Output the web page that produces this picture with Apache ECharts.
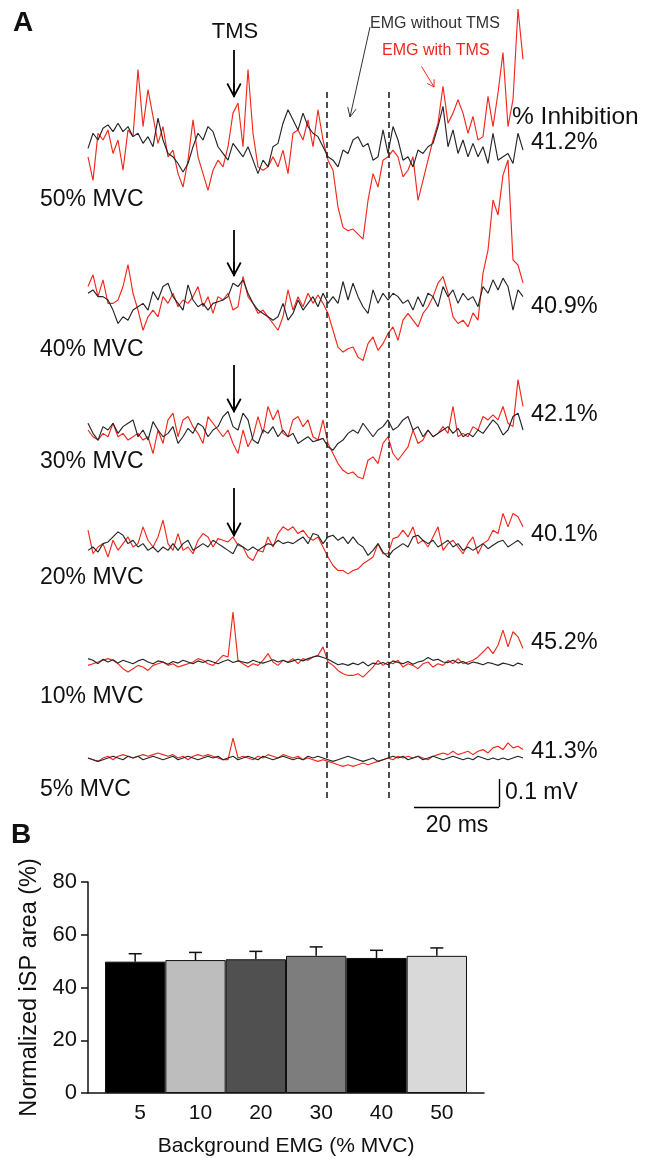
<!DOCTYPE html>
<html>
<head>
<meta charset="utf-8">
<script src="https://cdn.jsdelivr.net/npm/echarts@6/dist/echarts.min.js"></script>
<style>
html, body { margin: 0; padding: 0; background: #fff; }
#main { width: 654px; height: 1158px; }
</style>
</head>
<body>
<div id="main"></div>
<script>
// Panel A: rectified EMG, µV relative to each row's baseline, one sample every ~1.18 ms
var rowNames = ['50% MVC', '40% MVC', '30% MVC', '20% MVC', '10% MVC', '5% MVC'];
var inhibition = ['41.2%', '40.9%', '42.1%', '40.1%', '45.2%', '41.3%'];

var noTms50 = [-30,24,0,42,54,30,60,30,48,12,24,-12,12,-24,78,0,-48,-60,-84,-114,-84,-24,24,0,48,30,-24,-48,-72,-12,
  -36,-60,-24,-72,-120,-72,-96,-24,-12,60,108,72,36,96,48,24,12,-24,-60,-72,-96,-36,-48,0,12,-24,-12,-72,-60,36,
  -48,48,0,-72,-60,-96,-36,-48,-24,-12,48,120,-24,36,-48,0,-60,-12,-60,-24,-84,24,-72,-60,-48,-84,24,-36];
var tms50 = [-60,-144,24,0,36,-48,0,-108,36,12,252,48,180,84,-12,48,-60,-36,-120,-168,-72,72,-60,-120,-180,-108,-72,-96,-24,96,
  132,-24,252,24,-96,-108,-96,-60,-96,-36,-120,24,36,0,72,-24,108,0,-72,-108,-240,-312,-324,-318,-336,-354,-216,-120,-168,-72,
  -60,-36,-60,-132,-108,-60,-216,-144,-72,0,60,192,60,96,144,96,24,84,0,12,156,48,168,312,48,144,468,288];

var noTms40 = [24,36,12,12,0,-36,-84,-60,-72,-36,-24,-12,-36,30,0,48,60,12,-12,-36,54,0,-24,-12,-36,-12,-6,0,12,60,
  48,72,24,-12,-36,-48,-60,-72,-60,-12,-72,-48,0,-36,-12,12,-24,24,-12,12,-12,66,0,60,12,-24,-48,36,-12,24,
  0,24,12,-12,0,-36,12,-24,24,12,-24,48,12,36,-12,24,0,12,-24,48,24,72,36,78,48,-36,36,12];
var tms40 = [48,90,12,72,-12,-12,0,48,126,24,-36,-108,-60,-36,-60,12,-12,24,-24,0,-12,12,48,-24,12,-48,12,0,24,-36,
  -24,84,12,-12,-48,-36,-60,-84,-108,-60,36,-36,12,-24,24,-12,18,-12,-48,-108,-168,-186,-174,-168,-204,-216,-156,-132,-180,-156,
  -120,-96,-144,-72,-48,-72,-96,-48,-24,12,60,84,24,-60,-84,-72,-96,-46,-72,96,178,357,303,446,500,143,125,61];

var noTms30 = [24,-12,-36,12,0,24,-12,12,24,36,-24,0,-36,30,0,-24,-12,12,-48,-24,6,-12,24,12,-24,0,12,48,66,12,
  0,60,36,-36,-48,0,-12,12,-24,0,-24,-12,-48,-36,-24,-42,-36,-30,-60,-72,-48,-36,-12,0,-12,24,0,-24,0,12,
  36,0,12,36,48,0,12,-24,0,-24,-12,0,12,-12,6,-24,-12,-24,0,-12,12,36,18,-18,0,48,60,0];
var tms30 = [0,-24,-36,-12,-24,24,-24,-12,-36,-24,-12,-36,-24,-84,0,-48,36,60,-24,36,48,12,-12,-48,48,24,0,-24,0,-48,
  -84,0,-60,-24,48,-12,84,36,72,-12,-24,36,48,12,36,-24,-36,36,-48,-84,-120,-144,-156,-150,-168,-174,-108,-96,-120,-48,
  -24,-84,-108,-84,-60,0,-48,-36,0,-24,-12,12,-12,84,-24,-12,-24,12,0,48,36,54,36,84,24,12,180,84];

var noTms20 = [-12,0,-18,12,18,36,54,42,12,24,0,12,-12,0,-18,0,-12,12,-12,12,24,-12,0,12,0,24,12,0,-12,-24,
  12,0,-12,0,-12,0,12,6,24,12,18,12,24,36,12,48,42,12,36,42,24,36,12,36,12,0,-30,-12,12,-18,
  -36,-12,0,12,0,36,42,24,12,24,0,12,24,0,12,-12,0,-12,0,12,-6,6,18,24,0,12,24,6];
var tms20 = [60,-24,0,12,-36,24,-12,12,36,0,12,72,24,0,36,96,12,-12,48,-12,0,-24,24,48,36,0,30,24,18,36,
  6,0,-36,-48,-12,-18,36,0,48,72,60,72,48,60,36,24,36,0,-36,-66,-84,-84,-96,-84,-78,-60,-48,-36,12,-24,
  -24,30,36,60,36,72,12,24,0,36,72,-12,12,24,0,-24,12,36,-24,12,24,60,48,120,72,120,108,72];

var noTms10 = [12,6,-6,10,0,8,-4,6,0,-6,4,10,0,-6,4,0,-8,2,-4,6,0,-6,4,-2,6,0,-6,2,8,-2,
  4,0,-4,6,0,-4,2,8,0,6,-2,4,10,4,12,18,22,16,10,0,-10,-6,-12,-4,-10,0,-14,-4,-8,-2,
  -10,4,-2,-6,2,-8,0,4,16,6,10,0,-2,6,-4,2,-8,0,-4,-10,-2,-6,-12,-4,-8,-14,-4,-10];
var tms10 = [-12,-6,0,6,12,6,-6,-24,-36,-24,-12,-18,-30,-12,-6,0,-12,-6,-18,-12,-6,0,12,6,-6,-12,6,24,18,178,
  6,-6,-18,-6,-12,6,30,0,-12,6,0,12,-6,12,6,18,24,54,0,-12,-30,-42,-48,-48,-42,-54,-36,-18,6,-12,
  0,-6,6,-18,-6,-12,-24,-6,0,-18,-6,-12,6,-6,12,-6,0,6,18,36,54,30,60,114,54,108,90,48];

var noTms5 = [0,-6,-12,-6,0,6,0,-6,6,0,6,-6,0,6,0,-6,0,6,-6,0,6,0,-6,0,6,0,6,-6,0,6,
  -6,0,6,0,-6,6,0,-6,0,6,0,-6,0,-6,6,0,6,0,-6,-12,-6,0,6,0,-6,-12,-6,0,-12,-6,
  0,6,0,6,-6,0,6,-6,0,6,0,-6,0,6,0,-6,0,-6,6,0,-6,0,-6,0,-6,0,6,0];
var tms5 = [0,-6,-12,0,6,-6,6,12,6,0,6,12,6,12,18,12,6,12,0,6,-6,6,12,6,12,6,0,-6,-6,71,
  0,6,0,-6,6,0,12,6,0,12,6,0,6,-6,0,-6,-12,-6,-12,-18,-24,-30,-24,-30,-24,-18,-24,-18,-12,-6,
  0,-6,6,0,6,0,6,0,-6,6,12,18,12,24,12,18,24,12,24,30,18,36,42,30,54,36,42,30];

var noTmsRows = [noTms50, noTms40, noTms30, noTms20, noTms10, noTms5];
var tmsRows = [tms50, tms40, tms30, tms20, tms10, tms5];

// sample index of the TMS pulse and of the silent-period window
var tmsIndex = 29.2;
var spWindow = [47.8, 60.2];

// Panel B
var mvcLevels = ['5', '10', '20', '30', '40', '50'];
var ispArea = [49.8, 50.4, 50.7, 52.0, 51.2, 52.0];
var ispSem = [3.0, 2.9, 3.0, 3.4, 2.9, 3.0];
var barColors = ['#000000', '#bdbdbd', '#505050', '#7d7d7d', '#000000', '#d9d9d9'];

// layout
var FONT = '"Liberation Sans", Arial, sans-serif';
var RED = '#f2281d';
var BLK = '#262626';
var rowBase = [140, 300, 430, 547, 662, 758];
var rowLabelY = [200, 350, 462, 578, 697, 790];
var pctLabelY = [143, 307, 415, 535, 643, 752];
// arrow top / shaft end in µV, rows 50..20
var tmsArrow = [[321, 177], [250, 109], [232, 87], [211, 62]];

var arrowHead = 'path://M7,0 L14,14 L12.6,15 L7,3.8 L1.4,15 L0,14 Z M6.1,1 L7.9,1 L7.9,15 L6.1,15 Z';

var grids = [], xAxes = [], yAxes = [], series = [];

rowNames.forEach(function (name, r) {
  grids.push({ left: 88, width: 435, top: rowBase[r] - 140, height: 280 });
  xAxes.push({ gridIndex: r, type: 'value', min: 0, max: 87, show: false });
  yAxes.push({ gridIndex: r, type: 'value', min: -500, max: 500, show: false });

  series.push({
    type: 'line', xAxisIndex: r, yAxisIndex: r,
    data: tmsRows[r].map(function (v, i) { return [i, v]; }),
    showSymbol: false, clip: false, silent: true,
    lineStyle: { color: RED, width: 1.15 }
  });

  var black = {
    type: 'line', xAxisIndex: r, yAxisIndex: r,
    data: noTmsRows[r].map(function (v, i) { return [i, v]; }),
    showSymbol: false, clip: false, silent: true,
    lineStyle: { color: BLK, width: 1.15 }
  };
  if (r < 4) {
    black.markLine = {
      silent: true, animation: false,
      symbol: ['none', arrowHead], symbolSize: [15, 15],
      label: { show: false },
      lineStyle: { color: '#000', width: 1.8, type: 'solid' },
      itemStyle: { color: '#000' },
      data: [[{ coord: [tmsIndex, tmsArrow[r][0]] }, { coord: [tmsIndex, tmsArrow[r][1]] }]]
    };
  }
  if (r === 5) {
    // scale bar: 20 ms (17 samples) x 0.1 mV
    black.markLine = {
      silent: true, animation: false, symbol: 'none',
      label: { show: false },
      lineStyle: { color: '#000', width: 1.4, type: 'solid' },
      data: [
        [{ coord: [65.2, -175] }, { coord: [82.2, -175] }],
        [{ coord: [82.2, -175] }, { coord: [82.2, -75] }]
      ]
    };
  }
  series.push(black);
});

// overlay grid for the dashed silent-period window
grids.push({ left: 88, width: 435, top: 88, height: 710 });
xAxes.push({ gridIndex: 6, type: 'value', min: 0, max: 87, show: false });
yAxes.push({ gridIndex: 6, type: 'value', min: 0, max: 1, show: false });
series.push({
  type: 'line', xAxisIndex: 6, yAxisIndex: 6, data: [], silent: true,
  markLine: {
    silent: true, animation: false, symbol: 'none',
    label: { show: false },
    lineStyle: { color: '#222', width: 1.6, type: [6, 4] },
    data: spWindow.map(function (x) { return { xAxis: x }; })
  }
});

// panel B frame (axis lines extend past the bars)
grids.push({ left: 88, right: 170, top: 882, height: 211 });
xAxes.push({
  gridIndex: 7, type: 'value', min: 0, max: 1,
  axisLine: { show: true, lineStyle: { color: '#111', width: 1.5 } },
  axisTick: { show: false }, axisLabel: { show: false }, splitLine: { show: false }
});
yAxes.push({
  gridIndex: 7, type: 'value', min: 0, max: 80, interval: 20,
  name: 'Normalized iSP area (%)', nameLocation: 'middle', nameGap: 36,
  nameTextStyle: { fontFamily: FONT, fontSize: 23.5, color: '#111' },
  axisLine: { show: true, lineStyle: { color: '#111', width: 1.5 } },
  axisTick: { show: true, length: 7, lineStyle: { color: '#111', width: 1.5 } },
  axisLabel: { fontFamily: FONT, fontSize: 22, color: '#111', margin: 11 },
  splitLine: { show: false }
});

// panel B bars
grids.push({ left: 105, right: 187, top: 882, height: 211 });
xAxes.push({
  gridIndex: 8, type: 'category', data: mvcLevels,
  axisLine: { show: false }, axisTick: { show: false },
  axisLabel: { fontFamily: FONT, fontSize: 21, color: '#111', margin: 10, padding: [0, 0, 0, 10] },
  name: 'Background EMG (% MVC)', nameLocation: 'middle', nameGap: 43,
  nameTextStyle: { fontFamily: FONT, fontSize: 21, color: '#111' }
});
yAxes.push({ gridIndex: 8, type: 'value', min: 0, max: 80, show: false });

series.push({
  type: 'bar', xAxisIndex: 8, yAxisIndex: 8, barCategoryGap: '0%', silent: true,
  data: ispArea.map(function (v, i) {
    return { value: v, itemStyle: { color: barColors[i], borderColor: '#111', borderWidth: 1 } };
  })
});
series.push({
  type: 'custom', xAxisIndex: 8, yAxisIndex: 8, silent: true, z: 5,
  data: ispArea.map(function (v, i) { return [i, v, v + ispSem[i]]; }),
  renderItem: function (params, api) {
    var base = api.coord([api.value(0), api.value(1)]);
    var top = api.coord([api.value(0), api.value(2)]);
    var st = { stroke: '#111', lineWidth: 1.5 };
    return {
      type: 'group', children: [
        { type: 'line', shape: { x1: base[0], y1: base[1], x2: top[0], y2: top[1] }, style: st },
        { type: 'line', shape: { x1: top[0] - 6.5, y1: top[1], x2: top[0] + 6.5, y2: top[1] }, style: st }
      ]
    };
  }
});

function txt(s, x, y, size, opts) {
  opts = opts || {};
  return {
    type: 'text', x: x, y: y, silent: true,
    style: {
      text: s, fill: opts.color || '#111',
      font: (opts.bold ? 'bold ' : '') + size + 'px ' + FONT,
      align: opts.align || 'left', verticalAlign: 'middle',
      textAlign: opts.align || 'left', textVerticalAlign: 'middle'
    }
  };
}

var graphics = [
  txt('A', 13, 23, 28, { bold: true }),
  txt('B', 11, 835, 28, { bold: true }),
  txt('TMS', 235, 32, 22, { align: 'center' }),
  txt('EMG without TMS', 370, 24, 16, { color: '#333' }),
  txt('EMG with TMS', 382, 51, 16, { color: RED }),
  txt('% Inhibition', 512, 117, 24.5),
  txt('0.1 mV', 505, 793, 23),
  txt('20 ms', 457, 826, 23, { align: 'center' }),
  { type: 'polyline', silent: true, shape: { points: [[370, 27], [350, 117]] }, style: { stroke: '#333', lineWidth: 1, fill: null } },
  { type: 'polyline', silent: true, shape: { points: [[356.1, 109.1], [350, 117], [347.8, 107.2]] }, style: { stroke: '#333', lineWidth: 1, fill: null } },
  { type: 'polyline', silent: true, shape: { points: [[421.5, 66.5], [434, 87]] }, style: { stroke: RED, lineWidth: 1, fill: null } },
  { type: 'polyline', silent: true, shape: { points: [[434.1, 79.3], [434, 87], [427.3, 83.5]] }, style: { stroke: RED, lineWidth: 1, fill: null } }
];
rowNames.forEach(function (name, r) {
  graphics.push(txt(name, 40, rowLabelY[r], 23));
  graphics.push(txt(inhibition[r], 531, pctLabelY[r], 23.5));
});

var option = {
  animation: false,
  backgroundColor: '#fff',
  textStyle: { fontFamily: FONT },
  grid: grids,
  xAxis: xAxes,
  yAxis: yAxes,
  series: series,
  graphic: { elements: graphics }
};

var chart = echarts.init(document.getElementById('main'));
chart.setOption(option);
</script>
</body>
</html>
